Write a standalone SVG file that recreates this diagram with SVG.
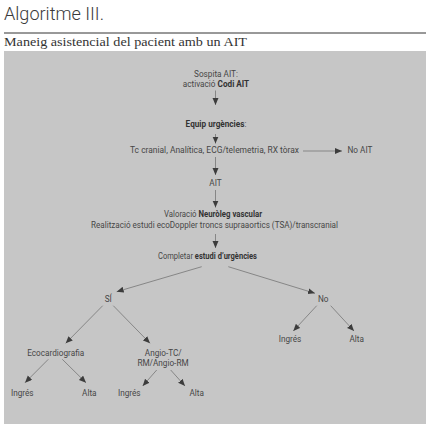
<svg xmlns="http://www.w3.org/2000/svg" width="432" height="432" viewBox="0 0 432 432">
<defs>
<style>
.t{font-family:Roboto,"Liberation Sans",sans-serif;font-size:8.2px;fill:#474747;text-anchor:middle}
.b{font-weight:bold;fill:#333}
.c{stroke:#5a5a5a;stroke-width:0.6;fill:none;marker-end:url(#ah)}
</style>
<marker id="ah" markerUnits="userSpaceOnUse" markerWidth="8" markerHeight="7" refX="7" refY="3" orient="auto">
<path d="M0,0 L7,3 L0,6 z" fill="#3c3c3c"/>
</marker>
</defs>
<rect width="432" height="432" fill="#fff"/>
<text x="4" y="20" font-family="Roboto,'Liberation Sans',sans-serif" font-weight="300" font-size="18" fill="#3a3a3a" textLength="100" lengthAdjust="spacingAndGlyphs">Algoritme III.</text>
<line x1="4" y1="33" x2="426" y2="33" stroke="#333" stroke-width="1"/>
<text x="4" y="46" font-family="'Liberation Serif',serif" font-size="12.3" fill="#333" textLength="243" lengthAdjust="spacingAndGlyphs">Maneig asistencial del pacient amb un AIT</text>
<rect x="4" y="51" width="422" height="373" fill="#c6c6c6"/>
<g id="connectors">
<line class="c" x1="215.5" y1="90.5" x2="215.5" y2="105"/>
<line class="c" x1="215.5" y1="134" x2="215.5" y2="143.5"/>
<line class="c" x1="303" y1="151" x2="342" y2="151"/>
<line class="c" x1="215.5" y1="157" x2="215.5" y2="175"/>
<line class="c" x1="215.5" y1="190" x2="215.5" y2="207.5"/>
<line class="c" x1="215.5" y1="234" x2="215.5" y2="248"/>
<line class="c" x1="201.7" y1="266.7" x2="116.7" y2="291.7"/>
<line class="c" x1="228.3" y1="266.7" x2="315" y2="293.3"/>
<line class="c" x1="102.7" y1="305.7" x2="65.7" y2="343.3"/>
<line class="c" x1="113.3" y1="305.7" x2="150" y2="343.3"/>
<line class="c" x1="316.7" y1="305.7" x2="293.3" y2="331"/>
<line class="c" x1="330.7" y1="305.7" x2="354" y2="331"/>
<line class="c" x1="48.3" y1="359.3" x2="25" y2="382.7"/>
<line class="c" x1="62.3" y1="359.3" x2="86" y2="382.7"/>
<line class="c" x1="156.7" y1="370" x2="142.7" y2="386"/>
<line class="c" x1="170.7" y1="370" x2="185" y2="386"/>
</g>
<g id="n-sospita"><text class="t" x="216" y="76.5">Sospita AIT:</text><text class="t" x="216" y="86.5">activació <tspan class="b">Codi AIT</tspan></text></g>
<g id="n-equip"><text class="t" x="216" y="126.5"><tspan class="b">Equip urgències</tspan>:</text></g>
<g id="n-tc"><text class="t" x="214.5" y="153.3" textLength="169" lengthAdjust="spacingAndGlyphs">Tc cranial, Analítica, ECG/telemetria, RX tòrax</text></g>
<g id="n-noait"><text class="t" x="347.5" y="153.3" style="text-anchor:start">No AIT</text></g>
<g id="n-ait"><text class="t" x="215.5" y="185.5">AIT</text></g>
<g id="n-valoracio"><text class="t" x="213" y="216.5" textLength="98" lengthAdjust="spacingAndGlyphs">Valoració <tspan class="b">Neuròleg vascular</tspan></text><text class="t" x="214.5" y="227.5" textLength="247" lengthAdjust="spacingAndGlyphs">Realització estudi ecoDoppler troncs supraaortics (TSA)/transcranial</text></g>
<g id="n-completar"><text class="t" x="207.5" y="259" textLength="99" lengthAdjust="spacingAndGlyphs">Completar <tspan class="b">estudi d’urgències</tspan></text></g>
<g id="n-si"><text class="t" x="108.3" y="301.7">SÍ</text></g>
<g id="n-no"><text class="t" x="323.3" y="301.7">No</text></g>
<g id="n-no-ingres"><text class="t" x="290" y="342.3">Ingrés</text></g>
<g id="n-no-alta"><text class="t" x="356.7" y="342.3">Alta</text></g>
<g id="n-eco"><text class="t" x="55.7" y="356">Ecocardiografia</text></g>
<g id="n-angio"><text class="t" x="163.3" y="356">Angio-TC/</text><text class="t" x="163" y="366">RM/Angio-RM</text></g>
<g id="n-eco-ingres"><text class="t" x="22.3" y="396">Ingrés</text></g>
<g id="n-eco-alta"><text class="t" x="89.3" y="396">Alta</text></g>
<g id="n-angio-ingres"><text class="t" x="129.3" y="396">Ingrés</text></g>
<g id="n-angio-alta"><text class="t" x="196.7" y="396">Alta</text></g>
</svg>
